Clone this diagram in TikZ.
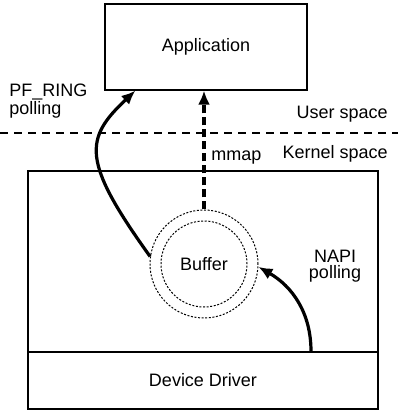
\documentclass[tikz,border=0pt]{standalone}
\usepackage{fontspec}
\setmainfont{Liberation Sans}
\usetikzlibrary{arrows.meta}

\begin{document}
\begin{tikzpicture}[
	box/.style={draw, line width=0.6pt},
	ring/.style={draw, circle, line width=0.5pt, dash pattern=on 1pt off 0.8pt},
	flow/.style={line width=1.6pt, -{Latex[length=7pt,width=6pt]}},
	sep/.style={line width=1.1pt, dash pattern=on 4pt off 3pt},
	every node/.style={font=\fontsize{9}{8}\selectfont, inner sep=0pt}
]
	\pgfsetxvec{\pgfpoint{0.5pt}{0pt}}
	\pgfsetyvec{\pgfpoint{0pt}{-0.5pt}}
	\useasboundingbox (0,0) rectangle (398,415);

	\node[box, minimum width=101pt, minimum height=43pt] at (206,47) (app) {Application};
	\node[box, minimum width=175pt, minimum height=90.5pt] at (203,261.5) (kernel) {};
	\node[box, minimum width=175pt, minimum height=28.5pt] at (203,380.5) (driver) {Device Driver};
	\node[ring, minimum size=54pt] at (204,264) (outer) {};
	\node[ring, minimum size=43pt] at (204,264) (buffer) {Buffer};

	\node[anchor=west, align=left] at (9,101) (pfring) {PF\_RING\\polling};
	\node[anchor=east] at (388,114.5) (user) {User space};
	\node[anchor=east] at (388,153.5) (kspace) {Kernel space};
	\node[anchor=west] at (211,158) (mmap) {mmap};
	\node[align=center] at (335,266) (napi) {NAPI\\polling};

	\coordinate (sepL) at (0,133);
	\coordinate (sepR) at (398,133);
	\draw[sep] (sepL) -- (sepR);

	\draw[flow] (outer.172) .. controls +(-69,-96) and +(-51,48) .. ([xshift=15.5pt]app.south west);
	\draw[flow, dash pattern=on 4pt off 2pt] (outer.north) -- (app.south -| outer.north);
	\draw[flow] ([xshift=54pt]driver.north) to[out=90,in=-30] (outer.-3);

\end{tikzpicture}
\end{document}
